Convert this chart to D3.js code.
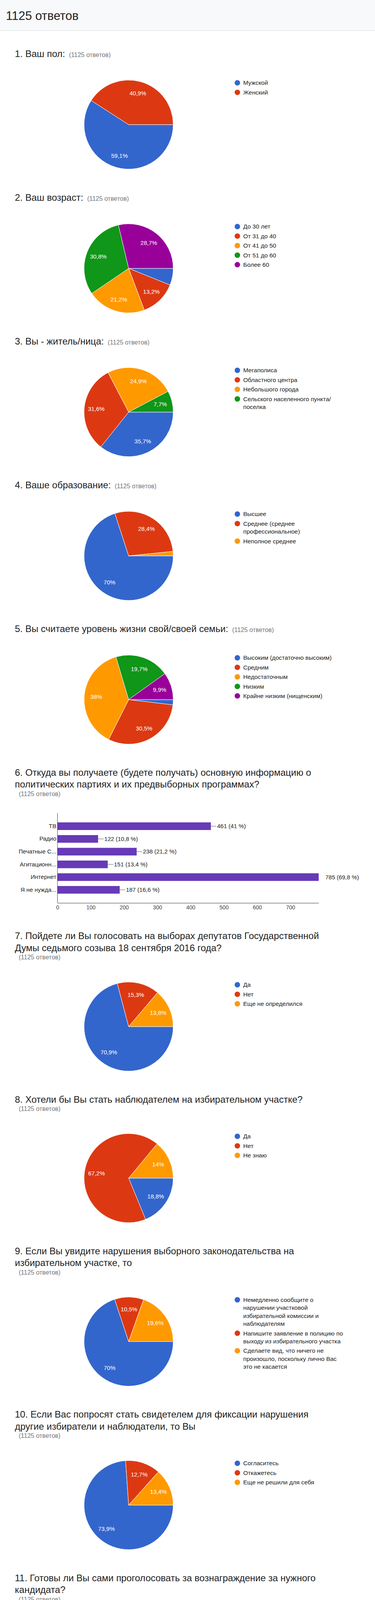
<!DOCTYPE html>
<html>
<head>
<meta charset="utf-8">
<script src="https://cdn.jsdelivr.net/npm/d3@7"></script>
<style>
  body { margin: 0; background: #fff; font-family: "Liberation Sans", Arial, sans-serif; }
  svg text { font-family: "Liberation Sans", Arial, sans-serif; }
</style>
</head>
<body>
<div id="chart"></div>
<script>
var totalAnswers = 1125;
var colors = ["#3366cc", "#dc3912", "#ff9900", "#109618", "#990099"];

var q1Labels = ["Мужской", "Женский"];
var q1Values = [59.1, 40.9];

var q2Labels = ["До 30 лет", "От 31 до 40", "От 41 до 50", "От 51 до 60", "Более 60"];
var q2Values = [6.1, 13.2, 21.2, 30.8, 28.7];

var q3Labels = ["Мегаполиса", "Областного центра", "Небольшого города", "Сельского населенного пункта/\nпоселка"];
var q3Values = [35.7, 31.6, 24.9, 7.7];

var q4Labels = ["Высшее", "Среднее (среднее\nпрофессиональное)", "Неполное среднее"];
var q4Values = [70, 28.4, 1.6];

var q5Labels = ["Высоким (достаточно высоким)", "Средним", "Недостаточным", "Низким", "Крайне низким (нищенским)"];
var q5Values = [1.9, 30.5, 38, 19.7, 9.9];

var q6Categories = ["ТВ", "Радио", "Печатные С...", "Агитационн...", "Интернет", "Я не нужда..."];
var q6Counts = [461, 122, 238, 151, 785, 187];
var q6Ticks = [0, 100, 200, 300, 400, 500, 600, 700];

var q7Labels = ["Да", "Нет", "Еще не определился"];
var q7Values = [70.9, 15.3, 13.8];

var q8Labels = ["Да", "Нет", "Не знаю"];
var q8Values = [18.8, 67.2, 14];

var q9Labels = ["Немедленно сообщите о\nнарушении участковой\nизбирательной комиссии и\nнаблюдателям",
                "Напишите заявление в полицию по\nвыходу из избирательного участка",
                "Сделаете вид, что ничего не\nпроизошло, поскольку лично Вас\nэто не касается"];
var q9Values = [70, 10.5, 19.6];

var q10Labels = ["Согласитесь", "Откажетесь", "Еще не решили для себя"];
var q10Values = [73.9, 12.7, 13.4];

var q11Labels = ["Да", "Нет", "Еще не определились", "Это зависит от размера\nвознаграждения"];
var q11Values = [4.1, 87.4, 1.5, 7];

var q12Labels = ["Продовольственный набор", "Денежное вознаграждение от 100\nдо 500 рублей",
                 "Денежное вознаграждение от 500\nдо 1000 рублей", "Денежное вознаграждение свыше\n1000 рублей",
                 "Вы выбрали другой вариант"];
var q12Values = [0.9, 0.7, 1.3, 9, 88.1];

var q13Labels = ["Да, готов лично участвовать", "Нет, я предпочту остаться дома,\nдаже если буду разделять эти\nвзгляды",
                 "Я не разделяю их взгляды", "Это будет зависеть от того,\nнасколько честными сочту итоги\nвыборов лично я сам",
                 "Не знаю"];
var q13Values = [19.2, 23.2, 13.2, 35.4, 9];

var q14Labels = ["Исключительно в мирном русле", "При фальсификациях на выборах\nдопустимы и массовые\nбеспорядки, как на украинском\nМайдане",
                 "Это будет зависеть от реакции\nвластей на такие акции", "Не знаю"];
var q14Values = [54.3, 10.8, 29.2, 5.7];
var q14NoLabel = [1];

var questions = [
  { title: ["1. Ваш пол:"], labels: q1Labels, values: q1Values },
  { title: ["2. Ваш возраст:"], labels: q2Labels, values: q2Values },
  { title: ["3. Вы - житель/ница:"], labels: q3Labels, values: q3Values },
  { title: ["4. Ваше образование:"], labels: q4Labels, values: q4Values },
  { title: ["5. Вы считаете уровень жизни свой/своей семьи:"], labels: q5Labels, values: q5Values },
  { title: ["6. Откуда вы получаете (будете получать) основную информацию о",
            "политических партиях и их предвыборных программах?"], bars: true },
  { title: ["7. Пойдете ли Вы голосовать на выборах депутатов Государственной",
            "Думы седьмого созыва 18 сентября 2016 года?"], labels: q7Labels, values: q7Values },
  { title: ["8. Хотели бы Вы стать наблюдателем на избирательном участке?"], labels: q8Labels, values: q8Values },
  { title: ["9. Если Вы увидите нарушения выборного законодательства на",
            "избирательном участке, то"], labels: q9Labels, values: q9Values },
  { title: ["10. Если Вас попросят стать свидетелем для фиксации нарушения",
            "другие избиратели и наблюдатели, то Вы"], labels: q10Labels, values: q10Values },
  { title: ["11. Готовы ли Вы сами проголосовать за вознаграждение за нужного",
            "кандидата?"], labels: q11Labels, values: q11Values },
  { title: ["12. Если бы вы выбрали первый и третий ответ на предыдущий вопрос,",
            "то каков бы был минимальный размер такого вознаграждения, за",
            "которое Вы готовы отдать свой голос?"], labels: q12Labels, values: q12Values },
  { title: ["13. Готовы ли Вы лично участвовать в акциях протеста, если какая-то",
            "из политических сил сочтет выборы нечестными и позовет",
            "избирателей протестовать на улицах?"], labels: q13Labels, values: q13Values },
  { title: ["14. На Ваш взгляд, акции протеста, если они будут, должны проходить",
            "исключительно в мирном русле или допустимы и беспорядки?"], labels: q14Labels, values: q14Values, noLabel: q14NoLabel }
];

var width = 959, height = 5747;
var radius = 114, pieX = 329;

var svg = d3.select("#chart").append("svg")
    .attr("width", width)
    .attr("height", height)
    .style("display", "block");

// header bar
svg.append("rect").attr("width", width).attr("height", 78).attr("fill", "#f8f9fa");
svg.append("line").attr("x1", 0).attr("x2", width).attr("y1", 78.5).attr("y2", 78.5)
    .attr("stroke", "#dadce0");
svg.append("text")
    .attr("x", 15).attr("y", 51)
    .attr("font-size", 31).attr("fill", "#202124")
    .text(totalAnswers + " ответов");

var countText = "(" + totalAnswers + " ответов)";

function pctLabel(v) {
  return String(v).replace(".", ",") + "%";
}

function drawPie(g, q, cy) {
  var pie = d3.pie().sort(null).value(d => d)
      .startAngle(Math.PI / 2).endAngle(Math.PI / 2 + 2 * Math.PI);
  var arcs = pie(q.values);
  var arc = d3.arc().innerRadius(0).outerRadius(radius);
  var labelArc = d3.arc().innerRadius(radius * 0.73).outerRadius(radius * 0.73);

  var pg = g.append("g").attr("transform", "translate(" + pieX + "," + cy + ")");
  pg.selectAll("path")
    .data(arcs)
    .enter()
    .append("path")
    .attr("d", arc)
    .attr("fill", (d, i) => colors[i])
    .attr("stroke", "#fff")
    .attr("stroke-width", 1);

  // small slices get no label, as in the original
  var noLabel = q.noLabel || [];
  pg.selectAll("text")
    .data(arcs.filter((d, i) => d.data >= 6.5 && noLabel.indexOf(i) < 0))
    .enter()
    .append("text")
    .attr("transform", d => "translate(" + labelArc.centroid(d) + ")")
    .attr("text-anchor", "middle")
    .attr("dy", "0.35em")
    .attr("font-size", 15)
    .attr("fill", "#fff")
    .text(d => pctLabel(d.data));

  // legend
  var ly = cy - radius + 7;
  q.labels.forEach((label, i) => {
    var lines = label.split("\n");
    g.append("circle").attr("cx", 607).attr("cy", ly).attr("r", 7).attr("fill", colors[i]);
    lines.forEach((line, j) => {
      g.append("text")
        .attr("x", 622).attr("y", ly + j * 20.4)
        .attr("dy", "0.35em")
        .attr("font-size", 15.5).attr("fill", "#222")
        .text(line);
    });
    ly += (lines.length - 1) * 20.4 + 24.4;
  });
}

function drawBars(g, top) {
  var bottom = top + 230;
  var maxCount = d3.max(q6Counts);
  var x = d3.scaleLinear().domain([0, maxCount]).range([147, 815]);
  var y = d3.scaleBand().domain(q6Categories).range([top, bottom])
      .paddingInner(0.4).paddingOuter(0.73);

  g.selectAll("rect.bar")
    .data(q6Categories)
    .enter()
    .append("rect")
    .attr("class", "bar")
    .attr("x", x(0))
    .attr("y", d => y(d))
    .attr("width", (d, i) => x(q6Counts[i]) - x(0))
    .attr("height", y.bandwidth())
    .attr("fill", "#673ab7");

  q6Categories.forEach((c, i) => {
    var v = q6Counts[i];
    var cy = y(c) + y.bandwidth() / 2;
    var pct = +(v / totalAnswers * 100).toFixed(1);
    if (v < maxCount) {
      g.append("line")
        .attr("x1", x(v)).attr("x2", x(v) + 14)
        .attr("y1", cy).attr("y2", cy)
        .attr("stroke", "#555");
    }
    g.append("text")
      .attr("x", x(v) + (v < maxCount ? 16 : 17)).attr("y", cy)
      .attr("dy", "0.35em")
      .attr("font-size", 15).attr("fill", "#222")
      .text(v + " (" + String(pct).replace(".", ",") + " %)");
  });

  var xAxis = g.append("g")
    .attr("transform", "translate(0," + bottom + ")")
    .call(d3.axisBottom(x).tickValues(q6Ticks).tickSize(0).tickPadding(7).tickFormat(d3.format("d")));
  xAxis.select(".domain").attr("stroke", "#333");
  xAxis.selectAll("text").attr("font-size", 14).attr("fill", "#444")
    .attr("font-family", "'Liberation Sans', Arial, sans-serif");

  var yAxis = g.append("g")
    .attr("transform", "translate(" + x(0) + ",0)")
    .call(d3.axisLeft(y).tickSize(0).tickPadding(3));
  yAxis.select(".domain").attr("stroke", "#333").attr("d", "M0," + top + "V" + bottom);
  yAxis.selectAll("text").attr("font-size", 15).attr("fill", "#222")
    .attr("font-family", "'Liberation Sans', Arial, sans-serif");

  return bottom;
}

var y = 137;
questions.forEach(q => {
  var g = svg.append("g");
  var lastText;
  q.title.forEach((line, i) => {
    lastText = g.append("text")
      .attr("x", 38).attr("y", y + i * 30.5 + 8.5)
      .attr("font-size", 24).attr("fill", "#212121")
      .text(line);
  });
  var lastY = y + (q.title.length - 1) * 30.5;
  var lastW = lastText.node().getComputedTextLength();
  var top;
  // short one-line titles keep the answer count on the same line
  var inline = q.title.length === 1 && 38 + lastW + 10 + 110 < 870;
  if (inline) {
    g.append("text")
      .attr("x", 38 + lastW + 10).attr("y", lastY + 8.5)
      .attr("font-size", 16).attr("fill", "#757575")
      .text(countText);
    top = lastY + 68;
  } else {
    var countY = lastY + 24.5;
    g.append("text")
      .attr("x", 48).attr("y", countY + 5.5)
      .attr("font-size", 16).attr("fill", "#757575")
      .text(countText);
    top = countY + (q.bars ? 49.5 : 63.5);
  }

  if (q.bars) {
    var bottom = drawBars(g, top);
    y = bottom + 84;
  } else {
    var cy = top + radius;
    drawPie(g, q, cy);
    y = cy + 186;
  }
});
</script>
</body>
</html>
